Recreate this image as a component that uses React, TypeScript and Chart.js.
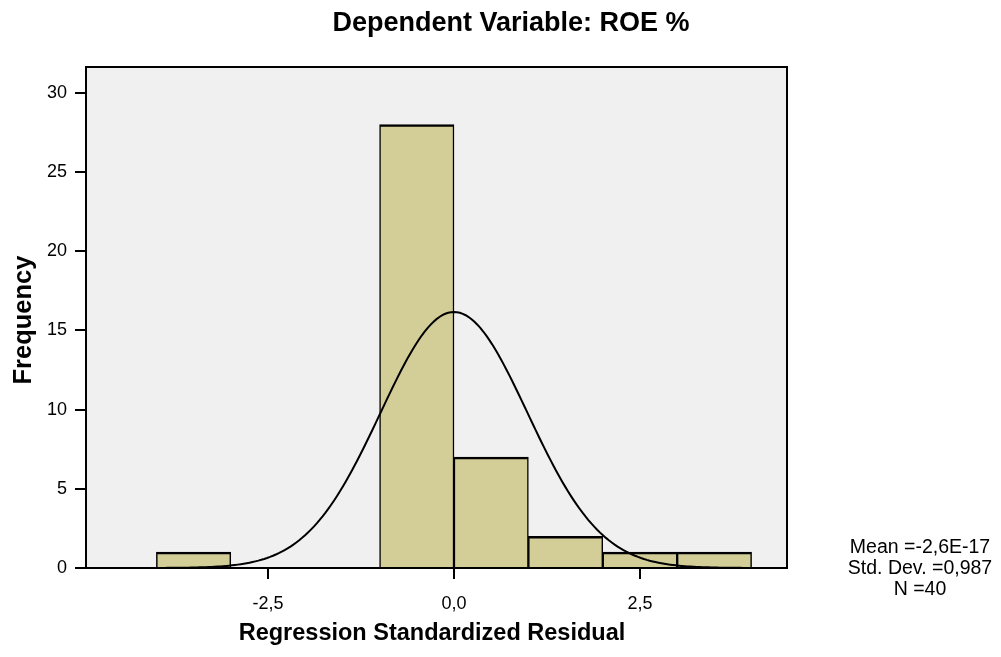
import React, { useEffect, useRef } from "react";
import { Chart, registerables } from "chart.js";

Chart.register(...registerables);

// ---- data ----
const binStarts = [-4, -1, 0, 1, 2, 3];
const binWidth = 1;
const frequencies = [1, 28, 7, 2, 1, 1];
const xTickValues = [-2.5, 0, 2.5];
const yTickValues = [0, 5, 10, 15, 20, 25, 30];
const statMean = -2.6e-17;
const statStdDev = 0.987;
const statN = 40;
const statLabels = ["Mean =-2,6E-17", "Std. Dev. =0,987", "N =40"];
const titleText = "Dependent Variable: ROE %";
const xTitleText = "Regression Standardized Residual";
const yTitleText = "Frequency";
const xMin = -4.946;
const xMax = 4.476;
const yMax = 31.64;

const FONT = "'Liberation Sans', Arial, Helvetica, sans-serif";

function normalCurve(): { x: number; y: number }[] {
  const pts: { x: number; y: number }[] = [];
  const steps = 240;
  for (let i = 0; i <= steps; i++) {
    const x = xMin + ((xMax - xMin) * i) / steps;
    const z = (x - statMean) / statStdDev;
    const y =
      (statN * binWidth) / (statStdDev * Math.sqrt(2 * Math.PI)) *
      Math.exp(-0.5 * z * z);
    pts.push({ x, y });
  }
  return pts;
}

const decorPlugin = {
  id: "decor",
  beforeDraw(chart: any) {
    const { ctx, chartArea } = chart;
    ctx.save();
    ctx.fillStyle = "#F0F0F0";
    ctx.fillRect(
      chartArea.left,
      chartArea.top,
      chartArea.right - chartArea.left,
      chartArea.bottom - chartArea.top
    );
    ctx.restore();
  },
  afterDraw(chart: any) {
    const { ctx, chartArea } = chart;
    ctx.save();
    // frame
    ctx.strokeStyle = "#000";
    ctx.lineWidth = 2;
    ctx.strokeRect(
      chartArea.left,
      chartArea.top,
      chartArea.right - chartArea.left,
      chartArea.bottom - chartArea.top
    );
    ctx.fillStyle = "#000";
    // title
    ctx.font = `bold 27px ${FONT}`;
    ctx.textAlign = "center";
    ctx.textBaseline = "alphabetic";
    ctx.fillText(titleText, 511, 31);
    // x title
    ctx.font = `bold 23.5px ${FONT}`;
    ctx.fillText(xTitleText, 432, 640);
    // y title
    ctx.save();
    ctx.translate(31, 320);
    ctx.rotate(-Math.PI / 2);
    ctx.font = `bold 25.5px ${FONT}`;
    ctx.fillText(yTitleText, 0, 0);
    ctx.restore();
    // stats
    ctx.font = `19.5px ${FONT}`;
    statLabels.forEach((s, i) => {
      ctx.fillText(s, 920, 553 + i * 21);
    });
    ctx.restore();
  },
};

export default function App() {
  const ref = useRef<HTMLCanvasElement | null>(null);
  useEffect(() => {
    if (!ref.current) return;
    const barData = binStarts.map((s, i) => ({
      x: s + binWidth / 2,
      y: frequencies[i],
    }));
    const chart = new Chart(ref.current, {
      type: "bar",
      data: {
        datasets: [
          {
            type: "line",
            data: normalCurve(),
            borderColor: "#000",
            borderWidth: 2,
            pointRadius: 0,
            fill: false,
            tension: 0,
            order: 0,
          } as any,
          {
            type: "bar",
            data: barData,
            backgroundColor: "#D3CE98",
            borderColor: "#000",
            borderWidth: { top: 2.5, left: 1.5, right: 1.5, bottom: 0 },
            borderSkipped: false,
            barPercentage: 1,
            categoryPercentage: 1,
            order: 1,
          } as any,
        ],
      },
      options: {
        responsive: false,
        animation: false,
        devicePixelRatio: 1,
        layout: { padding: { left: 0, top: 67, right: 214, bottom: 0 } },
        plugins: {
          legend: { display: false },
          title: { display: false },
          tooltip: { enabled: false },
        },
        scales: {
          x: {
            type: "linear",
            offset: false,
            min: xMin,
            max: xMax,
            afterBuildTicks: (scale: any) => {
              scale.ticks = xTickValues.map((v) => ({ value: v }));
            },
            afterFit: (scale: any) => {
              scale.height = 89;
            },
            grid: {
              offset: false,
              drawOnChartArea: false,
              drawTicks: true,
              tickLength: 11,
              color: "#000",
              lineWidth: 2,
            },
            border: { display: true, color: "#000", width: 2 },
            ticks: {
              color: "#000",
              font: { family: FONT, size: 18 },
              padding: 14,
              maxRotation: 0,
              autoSkip: false,
              callback: (v: any) => Number(v).toFixed(1).replace(".", ","),
            },
          },
          y: {
            type: "linear",
            min: 0,
            max: yMax,
            afterBuildTicks: (scale: any) => {
              scale.ticks = yTickValues.map((v) => ({ value: v }));
            },
            afterFit: (scale: any) => {
              scale.width = 86;
            },
            grid: {
              drawOnChartArea: false,
              drawTicks: true,
              tickLength: 11,
              color: "#000",
              lineWidth: 2,
            },
            border: { display: true, color: "#000", width: 2 },
            ticks: {
              color: "#000",
              font: { family: FONT, size: 18 },
              padding: 8,
              autoSkip: false,
              callback: (v: any) => String(v),
            },
          },
        },
      },
      plugins: [decorPlugin],
    });
    return () => chart.destroy();
  }, []);
  return (
    <div style={{ position: "absolute", left: 0, top: 0, width: 1001, height: 657, background: "#fff" }}>
      <canvas ref={ref} width={1001} height={657} style={{ display: "block" }} />
    </div>
  );
}
